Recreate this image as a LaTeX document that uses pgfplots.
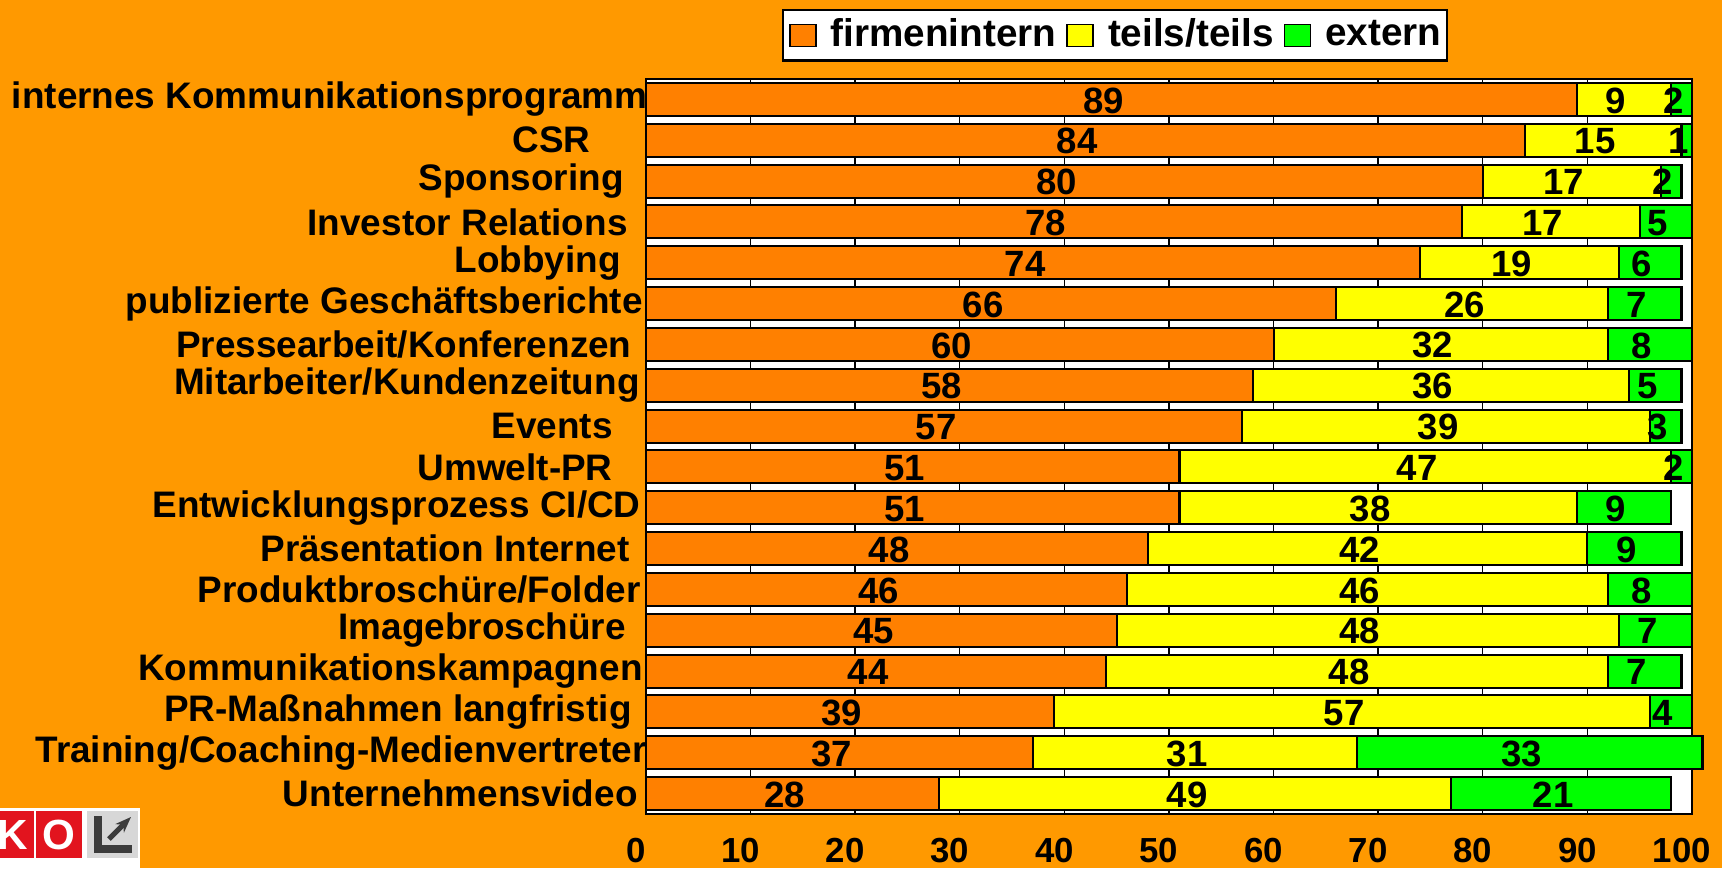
\documentclass[border=0pt]{standalone}
\usepackage{fontspec}
\setmainfont{Liberation Sans}
\usepackage{pgfplots}
\pgfplotsset{compat=1.18}
\usepackage{pgfplotstable}
\usetikzlibrary{arrows.meta}
\definecolor{bg}{RGB}{255,153,0}
\definecolor{orb}{RGB}{255,128,0}
\definecolor{yel}{RGB}{255,255,0}
\definecolor{grn}{RGB}{0,255,0}
\definecolor{logored}{RGB}{226,20,30}
\definecolor{logogray}{RGB}{215,215,215}
\definecolor{logodark}{RGB}{60,60,60}
\newcommand{\pad}[1]{\kern#1\rule{0pt}{0pt}}

\pgfplotstableread{
y a b c
0 89 9 2
1 84 15 1
2 80 17 2
3 78 17 5
4 74 19 6
5 66 26 7
6 60 32 8
7 58 36 5
8 57 39 3
9 51 47 2
10 51 38 9
11 48 42 9
12 46 46 8
13 45 48 7
14 44 48 7
15 39 57 4
16 37 31 33
17 28 49 21
}\data

\begin{document}
\begin{tikzpicture}
\fill[bg] (0,0) rectangle (172.2mm,86.8mm);
\begin{axis}[
  at={(64.6mm,5.4mm)}, anchor=south west,
  width=104.6mm, height=73.5mm, scale only axis,
  xbar stacked, bar width=3.3mm,
  xmin=0, xmax=100, ymin=-0.5, ymax=17.5, y dir=reverse,
  axis background/.style={fill=white},
  axis line style={line width=0.7pt},
  xtick={0,10,...,100}, ytick={0,...,17},
  yticklabels={
    {internes Kommunikationsprogramm\pad{-0.5mm}},
    {CSR\pad{5.2mm}},
    {Sponsoring\pad{1.9mm}},
    {Investor Relations\pad{1.5mm}},
    {Lobbying\pad{2.2mm}},
    {publizierte Geschäftsberichte},
    {Pressearbeit/Konferenzen\pad{1.1mm}},
    {Mitarbeiter/Kundenzeitung\pad{0.3mm}},
    {Events\pad{3mm}},
    {Umwelt-PR\pad{3mm}},
    {Entwicklungsprozess CI/CD\pad{0.2mm}},
    {Präsentation Internet\pad{1.3mm}},
    {Produktbroschüre/Folder\pad{0.2mm}},
    {Imagebroschüre\pad{1.7mm}},
    {Kommunikationskampagnen},
    {PR-Maßnahmen langfristig\pad{1.1mm}},
    {Training/Coaching-Medienvertreter\pad{-0.4mm}},
    {Unternehmensvideo\pad{0.5mm}}
  },
  yticklabel style={font=\fontsize{10.5}{12}\selectfont\bfseries, xshift=0.9mm},
  xticklabel style={font=\fontsize{9.9}{12}\selectfont\bfseries, yshift=-1.2mm, xshift=-1mm},
  /pgf/number format/assume math mode=true,
  major tick length=0,
  xmajorgrids, grid style={black, line width=0.4pt},
  clip=false,
  point meta=rawx,
  nodes near coords,
  every node near coord/.append style={
    font=\fontsize{10.4}{12}\selectfont\bfseries, text=black,
    anchor=center, xshift=-0.8mm, yshift=-0.1mm
  },
  legend style={at={(0.130,1.095)}, anchor=north west, legend columns=3,
    draw=black, line width=0.6pt, fill=white,
    font=\fontsize{11}{13}\selectfont\bfseries,
    inner xsep=0.6mm, inner ysep=0.45mm,
    nodes={inner xsep=0pt, inner ysep=0.4mm},
    /tikz/every odd column/.append style={column sep=1.4mm},
    /tikz/every even column/.append style={column sep=1.0mm}},
  legend image code/.code={\draw[#1, draw=black, line width=0.5pt] (0mm,-1.1mm) rectangle (2.6mm,1.1mm);},
]
\addplot[fill=orb, draw=black, line width=0.6pt] table[x=a, y=y] {\data};
\addlegendentry{firmenintern}
\addplot[fill=yel, draw=black, line width=0.6pt] table[x=b, y=y] {\data};
\addlegendentry{teils/teils}
\addplot[fill=grn, draw=black, line width=0.6pt] table[x=c, y=y] {\data};
\addlegendentry{extern}
\end{axis}
% logo
\fill[white] (0,0) rectangle (14mm,6mm);
\fill[logored] (0,1.0mm) rectangle (3.4mm,5.7mm);
\fill[logored] (3.6mm,1.0mm) rectangle (8.2mm,5.7mm);
\fill[logogray] (8.7mm,1.0mm) rectangle (13.8mm,5.7mm);
\node[white, font=\fontsize{12}{13}\selectfont\bfseries, inner sep=0pt] at (1.3mm,3.35mm) {K};
\node[white, font=\fontsize{12}{13}\selectfont\bfseries, inner sep=0pt] at (5.9mm,3.35mm) {O};
\fill[logodark] (9.4mm,1.5mm) rectangle (13.2mm,2.3mm);
\fill[logodark] (9.4mm,1.5mm) rectangle (10.2mm,5.2mm);
\draw[logodark, line width=0.5mm, -{Stealth[length=1.6mm]}] (10.9mm,2.9mm) -- (13.1mm,5.1mm);
\pgfresetboundingbox
\path[use as bounding box] (0,0) rectangle (172.2mm,86.8mm);
\end{tikzpicture}
\end{document}
